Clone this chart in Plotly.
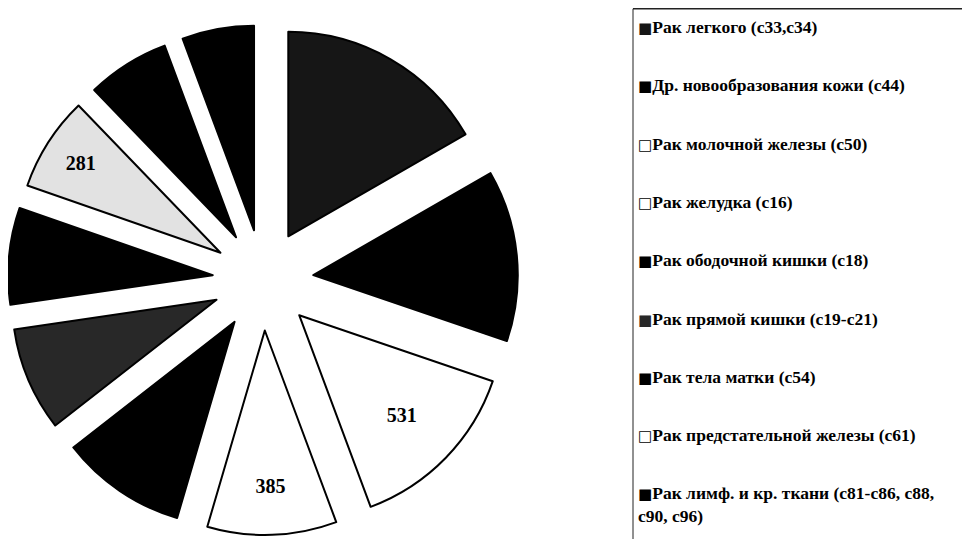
import plotly.graph_objects as go

# ---- data ----
labels = [
    "Рак легкого (c33,c34)",
    "Др. новообразования кожи (c44)",
    "Рак молочной железы (c50)",
    "Рак желудка (c16)",
    "Рак ободочной кишки (c18)",
    "Рак прямой кишки (c19-c21)",
    "Рак тела матки (c54)",
    "Рак предстательной железы (c61)",
    "Рак лимф. и кр. ткани (c81-c86, c88, c90, c96)",
    "Прочие",
]
values = [629, 510, 531, 385, 374, 310, 288, 281, 246, 214]
show_value = [False, False, True, True, False, False, False, True, False, False]
colors = ["#161616", "#000000", "#ffffff", "#ffffff", "#000000",
          "#282828", "#000000", "#e2e2e2", "#000000", "#000000"]
legend_count = 9  # legend box is cut off after the 9th entry

W, H = 971, 539

fig = go.Figure()
fig.add_trace(go.Pie(
    labels=labels,
    values=values,
    sort=False,
    direction="clockwise",
    rotation=0,
    pull=0.247,
    marker=dict(colors=colors, line=dict(color="#000000", width=2)),
    texttemplate=["<b>%{value}</b>" if s else "" for s in show_value],
    textposition="inside",
    insidetextorientation="horizontal",
    textfont=dict(family="Liberation Serif", size=20, color="#000000"),
    domain=dict(x=[0, 510 / W], y=[1 - 527 / H, 1 - 17 / H]),
    showlegend=False,
    hoverinfo="label+value",
))

# ---- legend box (cut off at the bottom like the source) ----
box_left, box_top, box_right = 625, 0.8, 954
fig.add_shape(type="line", xref="paper", yref="paper",
              x0=box_left / W, x1=box_right / W, y0=1 - box_top / H, y1=1 - box_top / H,
              line=dict(color="#222222", width=1.5))
fig.add_shape(type="line", xref="paper", yref="paper",
              x0=box_left / W, x1=box_left / W, y0=1 - box_top / H, y1=0,
              line=dict(color="#222222", width=1))

row0, row_step = 26, 58.3
gstyle = "font-family:DejaVu Sans;font-size:15px"
lfont = dict(family="Liberation Serif", size=17.5, color="#000000")
for i in range(legend_count):
    c = colors[i]
    light = int(c[1:3], 16) > 0x90
    glyph = (f'<span style="color:#000000;{gstyle}">□</span>' if light
             else f'<span style="color:{c};{gstyle}">■</span>')
    txt = labels[i].replace(", c90", ",<br>c90")
    yc = row0 + row_step * i
    fig.add_annotation(
        xref="paper", yref="paper",
        x=628 / W, y=1 - (yc - 19) / H,
        xanchor="left", yanchor="top", align="left",
        showarrow=False,
        text=f"<b>{glyph}{txt}</b>",
        font=lfont,
    )

fig.update_layout(
    width=W, height=H,
    margin=dict(l=0, r=0, t=0, b=0),
    paper_bgcolor="#ffffff",
    plot_bgcolor="#ffffff",
    showlegend=False,
)

fig.write_html("out.html")
